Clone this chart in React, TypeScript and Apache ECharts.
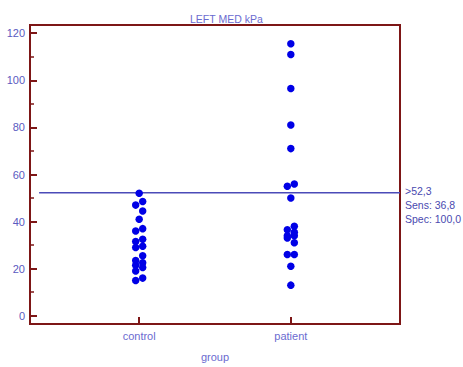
import React, { useEffect, useRef } from "react";
import * as echarts from "echarts";

const categories = ["control", "patient"];
const controlValues = [52, 48.5, 47, 44.5, 41, 37, 36, 32.5, 31.5, 29.5, 29, 25.5, 23.5, 22.5, 21.5, 20.5, 19, 16, 15];
const patientValues = [115.5, 111, 96.5, 81, 71, 56, 55, 50, 38, 36.5, 35.5, 34, 34, 33, 31, 26, 26, 21, 13];
const yTickValues = [0, 20, 40, 60, 80, 100, 120];
const yMinorTickValues = [10, 30, 50, 70, 90, 110];
const cutoff = 52.3;
const cutoffLabel = ">52,3";
const sensLabel = "Sens: 36,8";
const specLabel = "Spec: 100,0";
const titleText = "LEFT MED kPa";
const xAxisName = "group";

const Y_MIN = -3.5;
const Y_MAX = 123.5;
const X_MIN = -0.72;
const X_MAX = 1.72;
const GRID_W = 370;
const GRID_H = 301;
const Y_PX_PER_UNIT = GRID_H / (Y_MAX - Y_MIN);
const X_UNIT_PER_PX = (X_MAX - X_MIN) / GRID_W;

// simple dot-plot layout: runs of vertically close points alternate left/right
function dotLayout(values: number[], catIndex: number): number[][] {
  const sorted = [...values].sort((a, b) => b - a);
  const offsets: number[] = new Array(sorted.length).fill(0);
  const SHIFT = 3.5;
  const CLOSE = 8;
  for (let i = 1; i < sorted.length; i++) {
    const dy = (sorted[i - 1] - sorted[i]) * Y_PX_PER_UNIT;
    if (dy < CLOSE) {
      if (offsets[i - 1] === 0) offsets[i - 1] = SHIFT;
      offsets[i] = offsets[i - 1] > 0 ? -SHIFT : SHIFT;
    }
  }
  return sorted.map((v, i) => [catIndex + offsets[i] * X_UNIT_PER_PX, v]);
}

export default function App() {
  const ref = useRef<HTMLDivElement>(null);
  useEffect(() => {
    document.body.style.margin = "0";
    const chart = echarts.init(ref.current!, null, { renderer: "svg" });
    const frame = "#7d1616";
    const labelColor = "#5a5abf";
    const lightLabel = "#6b6bd0";
    chart.setOption({
      animation: false,
      textStyle: { fontFamily: "Liberation Sans, Arial, sans-serif" },
      title: {
        text: titleText,
        left: 185,
        top: 8,
        textStyle: { fontSize: 10.5, fontWeight: "normal", color: lightLabel },
      },
      grid: {
        left: 30,
        top: 25,
        width: GRID_W,
        height: GRID_H,
        show: true,
        borderColor: frame,
        borderWidth: 2,
      },
      xAxis: {
        type: "value",
        min: X_MIN,
        max: X_MAX,
        axisLine: { show: true, onZero: false, lineStyle: { color: frame, width: 2 } },
        axisTick: {
          show: true,
          inside: true,
          length: 7,
          customValues: [0, 1],
          lineStyle: { color: frame, width: 2 },
        },
        axisLabel: {
          customValues: [0, 1],
          formatter: (v: number) => categories[Math.round(v)] ?? "",
          color: lightLabel,
          fontSize: 11,
          margin: 6,
        },
        splitLine: { show: false },
        name: xAxisName,
        nameLocation: "middle",
        nameGap: 27,
        nameTextStyle: { color: lightLabel, fontSize: 11 },
      },
      yAxis: [
        {
          type: "value",
          min: Y_MIN,
          max: Y_MAX,
          axisLine: { show: true, onZero: false, lineStyle: { color: frame, width: 2 } },
          axisTick: {
            show: true,
            inside: true,
            length: 7,
            customValues: yTickValues,
            lineStyle: { color: frame, width: 2 },
          },
          axisLabel: {
            customValues: yTickValues,
            color: labelColor,
            fontSize: 11,
            margin: 5,
          },
          splitLine: { show: false },
        },
        {
          type: "value",
          min: Y_MIN,
          max: Y_MAX,
          position: "left",
          axisLine: { show: false, onZero: false },
          axisTick: {
            show: true,
            inside: true,
            length: 4,
            customValues: yMinorTickValues,
            lineStyle: { color: frame, width: 1.5 },
          },
          axisLabel: { show: false },
          splitLine: { show: false },
        },
      ],
      graphic: [
        {
          type: "text",
          left: 405,
          top: 184,
          style: {
            text: [cutoffLabel, sensLabel, specLabel].join("\n"),
            font: "10.5px Liberation Sans, Arial, sans-serif",
            lineHeight: 14,
            fill: "#4a4aaf",
          },
        },
      ],
      series: [
        {
          type: "line",
          data: [[-0.66, cutoff], [X_MAX, cutoff]],
          symbol: "none",
          lineStyle: { color: "#4b4bb8", width: 1.5 },
          silent: true,
          z: 1,
        },
        {
          type: "scatter",
          name: categories[0],
          data: dotLayout(controlValues, 0),
          symbolSize: 7.5,
          itemStyle: { color: "#0000e6", opacity: 1 },
          z: 3,
        },
        {
          type: "scatter",
          name: categories[1],
          data: dotLayout(patientValues, 1),
          symbolSize: 7.5,
          itemStyle: { color: "#0000e6", opacity: 1 },
          z: 3,
        },
      ],
    });
    return () => chart.dispose();
  }, []);
  return <div ref={ref} style={{ width: 463, height: 367 }} />;
}
